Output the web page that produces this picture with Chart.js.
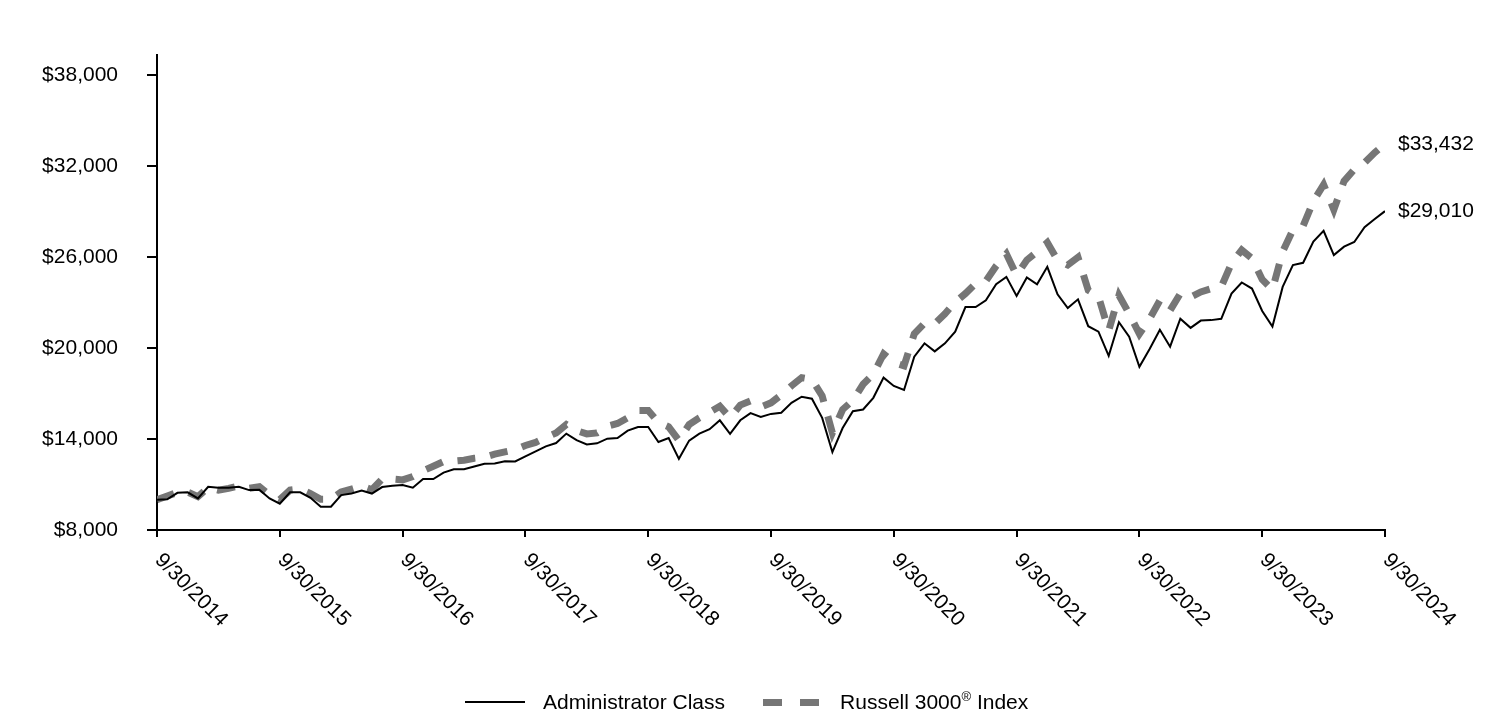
<!DOCTYPE html>
<html>
<head>
<meta charset="utf-8">
<script src="https://cdn.jsdelivr.net/npm/chart.js@4.4.1/dist/chart.umd.min.js"></script>
<style>
    body { margin: 0; background: #fff; }
    #wrap { position: relative; width: 1512px; height: 718px; }
    #legend {
        position: absolute; left: 465px; top: 689px; height: 26px;
        display: flex; align-items: center;
        font-family: Arial, "Liberation Sans", sans-serif; font-size: 21px; color: #000;
    }
    #legend .solid { width: 60px; height: 2px; background: #000; margin-right: 18px; }
    #legend .dash { display: flex; margin: 0 21px 0 38px; }
    #legend .dash i { width: 19px; height: 7px; background: #767676; margin-right: 18px; }
    #legend .dash i:last-child { margin-right: 0; }
    #legend sup { font-size: 13px; vertical-align: 8px; line-height: 0; }
</style>
</head>
<body>
<div id="wrap">
    <canvas id="chart" width="1512" height="718"></canvas>
    <div id="legend">
        <span class="solid"></span><span>Administrator Class</span>
        <span class="dash"><i></i><i></i></span><span>Russell 3000<sup>®</sup> Index</span>
    </div>
</div>
<script>
// growth of $10,000, month-end values 9/30/2014 .. 9/30/2024
const tickLabels = ['9/30/2014', '9/30/2015', '9/30/2016', '9/30/2017', '9/30/2018', '9/30/2019',
    '9/30/2020', '9/30/2021', '9/30/2022', '9/30/2023', '9/30/2024'];
const yTicks = [8000, 14000, 20000, 26000, 32000, 38000];

const adminClass = [
    10000, 10020, 10450, 10480, 10080, 10850, 10790, 10790, 10850, 10630,
    10650, 10080, 9730, 10480, 10480, 10120, 9530, 9530, 10300, 10410,
    10600, 10400, 10830, 10920, 10970, 10790, 11360, 11360, 11780, 12000,
    12000, 12180, 12360, 12380, 12530, 12520, 12850, 13180, 13510, 13730,
    14350, 13920, 13640, 13710, 14020, 14060, 14550, 14790, 14790, 13800,
    14060, 12690, 13890, 14350, 14640, 15230, 14330, 15230, 15700, 15450,
    15650, 15730, 16380, 16780, 16650, 15390, 13130, 14720, 15830, 15940,
    16710, 18040, 17490, 17230, 19420, 20300, 19770, 20300, 21070, 22690,
    22690, 23130, 24200, 24680, 23420, 24640, 24190, 25340, 23530, 22620,
    23200, 21430, 21070, 19480, 21690, 20740, 18750, 19930, 21190, 20080,
    21920, 21320, 21800, 21830, 21920, 23580, 24310, 23910, 22430, 21410,
    24020, 25460, 25610, 27010, 27710, 26120, 26670, 26980, 27960, 28490,
    29010
];

const russell3000 = [
    10000, 10240, 10480, 10500, 10200, 10790, 10630, 10740, 10900, 10750,
    10850, 10300, 10000, 10630, 10700, 10400, 10020, 10020, 10500, 10700,
    10900, 10650, 11360, 11360, 11300, 11520, 11900, 12200, 12510, 12540,
    12600, 12730, 12800, 13000, 13150, 13290, 13570, 13770, 14100, 14400,
    14950, 14550, 14330, 14400, 14840, 15020, 15390, 15880, 15880, 15100,
    14800, 13900, 14950, 15390, 15760, 16160, 15390, 16230, 16500, 16100,
    16380, 16900, 17500, 18040, 17930, 16830, 14400, 15940, 16540, 17600,
    18270, 19600, 19040, 18820, 20920, 21630, 21600, 22250, 23020, 23580,
    24240, 24410, 25400, 26200, 24790, 25790, 26340, 26940, 25790, 25460,
    25970, 23800, 23400, 21140, 23460, 22250, 20920, 21920, 23130, 22470,
    23580, 23350, 23690, 23900, 24020, 25570, 26450, 25900, 24510, 23840,
    26340, 27780, 28040, 29660, 30760, 29110, 30990, 31760, 32200, 32870,
    33432
];

const FONT = 'Arial, "Liberation Sans", sans-serif';

function money(v) {
    return '$' + v.toLocaleString('en-US');
}

// rotated date labels under the axis, and the end values at the right
const labelsPlugin = {
    id: 'labels',
    afterDraw(chart) {
        const ctx = chart.ctx;
        const x = chart.scales.x;
        ctx.save();
        ctx.fillStyle = '#000';
        ctx.font = '21px ' + FONT;
        ctx.textAlign = 'left';
        ctx.textBaseline = 'middle';
        tickLabels.forEach((t, i) => {
            const px = x.getPixelForValue(i * 12);
            ctx.save();
            ctx.translate(px + 1, 557);
            ctx.rotate(Math.PI / 4);
            ctx.fillText(t, 0, 0);
            ctx.restore();
        });
        chart.data.datasets.forEach((ds, i) => {
            const pts = chart.getDatasetMeta(i).data;
            const last = pts[pts.length - 1];
            ctx.fillText(money(ds.data[ds.data.length - 1].y), last.x + 13, last.y);
        });
        ctx.restore();
    }
};

const ctx = document.getElementById('chart').getContext('2d');

new Chart(ctx, {
    type: 'line',
    data: {
        datasets: [{
            label: 'Administrator Class',
            data: adminClass.map((v, i) => ({ x: i, y: v })),
            borderColor: '#000',
            borderWidth: 2,
            pointRadius: 0,
            tension: 0
        }, {
            label: 'Russell 3000® Index',
            data: russell3000.map((v, i) => ({ x: i, y: v })),
            borderColor: '#767676',
            borderWidth: 7,
            borderDash: [18, 15],
            borderCapStyle: 'butt',
            pointRadius: 0,
            tension: 0
        }]
    },
    options: {
        responsive: false,
        animation: false,
        devicePixelRatio: 1,
        layout: { padding: { top: 55, right: 127, left: 0, bottom: 0 } },
        plugins: {
            legend: { display: false },
            tooltip: { enabled: false }
        },
        scales: {
            x: {
                type: 'linear',
                min: 0,
                max: 120,
                afterBuildTicks: s => { s.ticks = tickLabels.map((t, i) => ({ value: i * 12 })); },
                afterFit: s => { s.height = 718 - 530; },
                ticks: { display: false },
                grid: { drawOnChartArea: false, drawTicks: true, tickLength: 7, color: '#000', lineWidth: 2 },
                border: { color: '#000', width: 2 }
            },
            y: {
                min: 8000,
                max: 39300,
                afterBuildTicks: s => { s.ticks = yTicks.map(v => ({ value: v })); },
                afterFit: s => { s.width = 157; },
                ticks: {
                    padding: 29,
                    color: '#000',
                    font: { family: FONT, size: 21 },
                    callback: v => money(v)
                },
                grid: { drawOnChartArea: false, drawTicks: true, tickLength: 10, color: '#000', lineWidth: 2 },
                border: { color: '#000', width: 2 }
            }
        }
    },
    plugins: [labelsPlugin]
});
</script>
</body>
</html>
